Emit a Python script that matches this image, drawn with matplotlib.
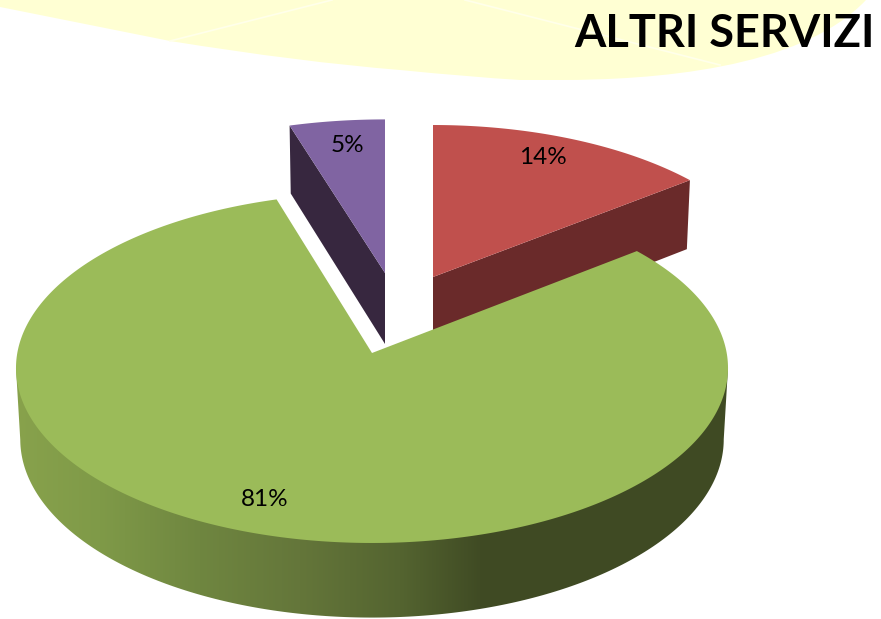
import numpy as np
import matplotlib
matplotlib.use('Agg')
import matplotlib.pyplot as plt
from matplotlib.colors import to_rgb
from matplotlib.patches import PathPatch, Polygon
from matplotlib.path import Path

plt.rcParams['font.family'] = ['Lato', 'DejaVu Sans']

## data (clockwise from 12 o'clock)
names = ['rosso', 'verde', 'viola']
values = [14.4, 80.9, 4.7]
title = 'ALTRI SERVIZI'

## layout, in image pixels
top_colors = ['#c0504d', '#9bbb59', '#8064a2']
side_colors = ['#6a2a2a', '#3f4a23', '#37273f']
apex = [(433, 277), (372, 353), (385, 273)]
scale_x = [0.97, 1.0, 1.0]
scale_y = [0.95, 1.0, 0.96]
label_pos = [(543, 157), (265, 500), (347, 145)]

R = 354.7
A = 173.7
K = 0.0857
THICK = 71.0

grad_x = [15, 100, 200, 300, 400, 480, 730]
grad_col = ['#88a24c', '#7f9a48', '#6f8640', '#64763a', '#546430', '#404b24', '#3f4a23']


def project(ang, i):
	""" angle in degrees clockwise from top, returns rim points and w """
	t = np.radians(ang)
	u, v = np.sin(t), np.cos(t)
	w = 1/(1 + K*v)
	x = apex[i][0] + scale_x[i]*R*u*w
	y = apex[i][1] - scale_y[i]*A*v*w
	return x, y, w


def drop(x, y, w, i):
	""" same point on the lower face of the slice """
	return apex[i][0] + (x - apex[i][0])*0.988, y + THICK*w**0.55


fig = plt.figure(figsize=(8.81, 6.19), dpi=100)
ax = fig.add_axes([0, 0, 1, 1])

## yellow swoosh behind the title
verts = [(0, 7), (170, 41), (300, 62), (400, 70), (470, 77), (520, 80), (560, 80),
	(650, 80), (800, 70), (866, 0), (0, 0)]
codes = [Path.MOVETO, Path.LINETO, Path.CURVE3, Path.CURVE3, Path.CURVE3, Path.CURVE3, Path.LINETO,
	Path.CURVE4, Path.CURVE4, Path.CURVE4, Path.LINETO]
ax.add_patch(PathPatch(Path(verts, codes), fc='#ffffd3', ec='none', zorder=1))
ax.plot([170, 332], [41, 0], color='#ffffea', lw=1.2, zorder=2)
ax.plot([465, 720], [0, 65], color='#ffffea', lw=1.2, zorder=2)

## slice angles from the values
total = sum(values)
edges = np.concatenate([[0], np.cumsum(values)])/total*360

# draw back slices first, green goes on top
for i in [0, 2, 1]:
	a0, a1 = edges[i], edges[i + 1]
	ang = np.linspace(a0, a1, 400)
	xs, ys, ws = project(ang, i)
	ax0, ay0 = apex[i]

	if i == 1:
		# rim wall, a gradient clipped to the outline from widest point to widest point
		right, left = np.argmax(xs), np.argmin(xs)
		bx, by = drop(xs[right:left + 1], ys[right:left + 1], ws[right:left + 1], i)
		wall = np.column_stack([np.r_[xs[right], bx, xs[left]], np.r_[ys[right], by, ys[left]]])
		rgb = np.array([to_rgb(c) for c in grad_col])
		cols = np.arange(0, 881)
		img = np.stack([np.interp(cols, grad_x, rgb[:, j]) for j in range(3)], axis=-1)[None, :, :]
		im = ax.imshow(img, extent=[0, 881, 619, 0], aspect='auto', zorder=5, interpolation='bilinear')
		clip = Polygon(wall, fc='none', ec='none', transform=ax.transData)
		ax.add_patch(clip)
		im.set_clip_path(clip)
	else:
		# cut face that looks towards the viewer
		k = -1 if i == 0 else 0
		cx, cy = drop(xs[k], ys[k], ws[k], i)
		face = [(ax0, ay0), (xs[k], ys[k]), (cx, cy), (ax0, ay0 + THICK)]
		ax.add_patch(Polygon(face, fc=side_colors[i], ec='none', zorder=3))

	top = np.column_stack([np.r_[ax0, xs], np.r_[ay0, ys]])
	ax.add_patch(Polygon(top, fc=top_colors[i], ec='none', zorder=6 if i == 1 else 4))

## labels
for v, (lx, ly) in zip(values, label_pos):
	ax.text(lx, ly, '%d%%' % round(v), ha='center', va='center', fontsize=17.5, color='black', zorder=8)

ax.text(875, 47, title, ha='right', va='baseline', fontsize=32.5, fontweight='bold', color='black', zorder=9)

ax.set_xlim(0, 881)
ax.set_ylim(619, 0)
ax.axis('off')

fig.savefig('out.png', dpi=100)
